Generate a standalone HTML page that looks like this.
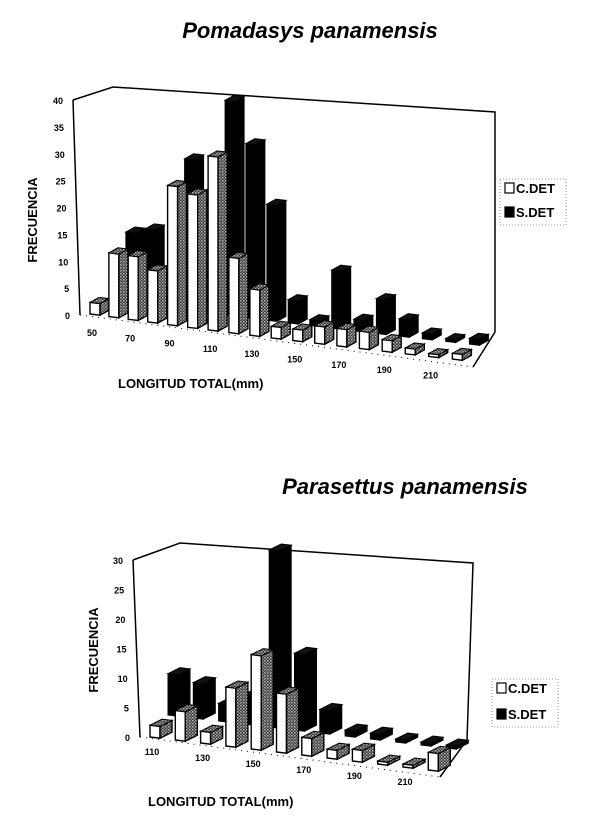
<!DOCTYPE html>
<html><head><meta charset="utf-8"><style>
body{margin:0;background:#fff;}
svg{display:block;font-family:"Liberation Sans",Arial,sans-serif;}
</style></head><body>
<svg id="chart" width="600" height="821" viewBox="0 0 600 821">
<defs>
<pattern id="hatch" width="3" height="3" patternUnits="userSpaceOnUse">
<rect width="3" height="3" fill="#333"/><rect width="1.5" height="1.5" fill="#bbb"/><rect x="1.5" y="1.5" width="1.5" height="1.5" fill="#888"/>
</pattern>
</defs>
<text x="310" y="38" font-size="22" font-weight="bold" font-style="italic" text-anchor="middle">Pomadasys panamensis</text>
<text x="405" y="494" font-size="22" font-weight="bold" font-style="italic" text-anchor="middle">Parasettus panamensis</text>
<g id="top"></g>
<g id="bot"></g>
</svg>
<script>
// Top chart data (Pomadasys panamensis)
const topCategories = [50,60,70,80,90,100,110,120,130,140,150,160,170,180,190,200,210,220];
const topCDET = [2,11,11,9,24,23,30,13,8,2,2,3,3,3,2,1,0.5,1];
const topSDET = [0,12,13,5,26,20,37,30,20,4,1,10,2,6,3,1,0.5,1];
const topTicks = [0,5,10,15,20,25,30,35,40];
// Bottom chart data (Parasettus panamensis)
const botCategories = [110,120,130,140,150,160,170,180,190,200,210,220];
const botCDET = [2,5,2,10,16,10,3,1.5,2,0.5,0.5,3];
const botSDET = [7,6,3,5,30,13,4,1,1,0.5,0.5,0.5];
const botTicks = [0,5,10,15,20,25,30];

const NS="http://www.w3.org/2000/svg";
function mk(parent,tag,attrs){const e=document.createElementNS(NS,tag);for(const k in attrs)e.setAttribute(k,attrs[k]);parent.appendChild(e);return e;}
function pts(a){return a.map(p=>p[0].toFixed(1)+","+p[1].toFixed(1)).join(" ");}

function drawChart(g,cfg,cats,cdet,sdet,ticks){
  const wall=mk(g,'polyline',{points:pts(cfg.wall),fill:'none',stroke:'#000','stroke-width':1.5});
  
  
  const axis=mk(g,'line',{x1:cfg.axTop[0],y1:cfg.axTop[1],x2:cfg.axBot[0],y2:cfg.axBot[1],stroke:'#000','stroke-width':1.5});
  
  
  const fl=mk(g,'polyline',{points:pts(cfg.floor),fill:'none',stroke:'#000','stroke-width':1,'stroke-dasharray':'1 5'});
  
  
  const yv=v=>cfg.axBot[1]+(cfg.axTop[1]-cfg.axBot[1])*v/ticks[ticks.length-1];
  const xv=v=>cfg.axBot[0]+(cfg.axTop[0]-cfg.axBot[0])*v/ticks[ticks.length-1];
  const catX=i=>cfg.x0+i*cfg.dx+(cfg.b||0)*i*i;
  const catY=i=>cfg.y0+i*cfg.dy;
  ticks.forEach(t=>{
    const tx=mk(g,'text',{x:xv(t)-10,y:yv(t)+4,'font-size':9,'font-weight':'bold','text-anchor':'end'});
    tx.textContent=t;
    
    
  });
  const bar=(i,v,row)=>{
    let bx=catX(i), by=catY(i);
    if(row===1){bx+=cfg.ox;by+=cfg.oy;}
    const h=v*cfg.k, w=cfg.fw, sx=cfg.sx, sy=cfg.sy;
    const bg=mk(g,'g',{});
    
    
    const front=[[bx,by],[bx+w,by+w*cfg.slope],[bx+w,by+w*cfg.slope-h],[bx,by-h]];
    const side=[[bx+w,by+w*cfg.slope],[bx+w+sx,by+w*cfg.slope+sy],[bx+w+sx,by+w*cfg.slope+sy-h],[bx+w,by+w*cfg.slope-h]];
    const top=[[bx,by-h],[bx+w,by+w*cfg.slope-h],[bx+w+sx,by+w*cfg.slope+sy-h],[bx+sx,by+sy-h]];
    if(row===1){
      mk(bg,'polygon',{points:pts(front),fill:'#000',stroke:'#000'});
      mk(bg,'polygon',{points:pts(side),fill:'#000',stroke:'#000'});
      mk(bg,'polygon',{points:pts(top),fill:'#111',stroke:'#000'});
    }else{
      mk(bg,'polygon',{points:pts(front),fill:'#fff',stroke:'#000','stroke-width':1.4});
      mk(bg,'polygon',{points:pts(side),fill:'url(#hatch)',stroke:'#000','stroke-width':1.4});
      mk(bg,'polygon',{points:pts(top),fill:'url(#hatch)',stroke:'#000','stroke-width':1});
    }
  };
  sdet.forEach((v,i)=>bar(i,v,1));
  cdet.forEach((v,i)=>bar(i,v,0));
  cats.forEach((c,i)=>{
    if((c-cats[0])%20!==0)return;
    const tx=mk(g,'text',{x:catX(i)+cfg.lx,y:catY(i)+cfg.ly,'font-size':9,'font-weight':'bold','text-anchor':'middle'});
    tx.textContent=c;
    
    
  });
  const xt=mk(g,'text',{x:cfg.xt[0],y:cfg.xt[1],'font-size':13,'font-weight':'bold'});
  xt.textContent='LONGITUD TOTAL(mm)';
  
  
  const yt=mk(g,'text',{x:0,y:0,'font-size':13,'font-weight':'bold','text-anchor':'middle',transform:`translate(${cfg.yt[0]},${cfg.yt[1]}) rotate(-90)`});
  yt.textContent='FRECUENCIA';
  
  
  const lg=mk(g,'g',{});
  
  
  mk(lg,'rect',{x:cfg.leg[0]-5,y:cfg.leg[1]-13,width:66,height:cfg.legGap+22,fill:'none',stroke:'#777','stroke-width':0.8,'stroke-dasharray':'1 2'});
  [['C.DET','#fff'],['S.DET','#000']].forEach((e,j)=>{
    const ly=cfg.leg[1]+j*cfg.legGap;
    mk(lg,'rect',{x:cfg.leg[0],y:ly-9,width:9,height:10,fill:e[1],stroke:'#000','stroke-width':1.2});
    const t=mk(lg,'text',{x:cfg.leg[0]+11,y:ly+1,'font-size':13,'font-weight':'bold'});
    t.textContent=e[0];
    
    
  });
}

drawChart(document.getElementById('top'),{
  wall:[[73,100],[113,87],[495,112],[495,332],[473,367]],
  axTop:[73,100],axBot:[80,315],
  floor:[[80,315],[473,367]],
  x0:90,y0:314,dx:18.8,b:0.148,dy:2.65,slope:0.12,fw:10,sx:9,sy:-5,ox:17,oy:-15,k:5.8,
  lx:2,ly:22,xt:[118,388],yt:[37,220],leg:[505,192],legGap:24
},topCategories,topCDET,topSDET,topTicks);

drawChart(document.getElementById('bot'),{
  wall:[[133,560],[180,543],[473,563],[467,740],[440,777]],
  axTop:[133,560],axBot:[140,737],
  floor:[[140,737],[440,777]],
  x0:150,y0:737,dx:25.3,dy:3.0,slope:0.12,fw:10,sx:12,sy:-6,ox:18,oy:-22,k:5.9,
  lx:2,ly:18,xt:[148,806],yt:[98,650],leg:[497,692],legGap:26
},botCategories,botCDET,botSDET,botTicks);
</script>
</body></html>
